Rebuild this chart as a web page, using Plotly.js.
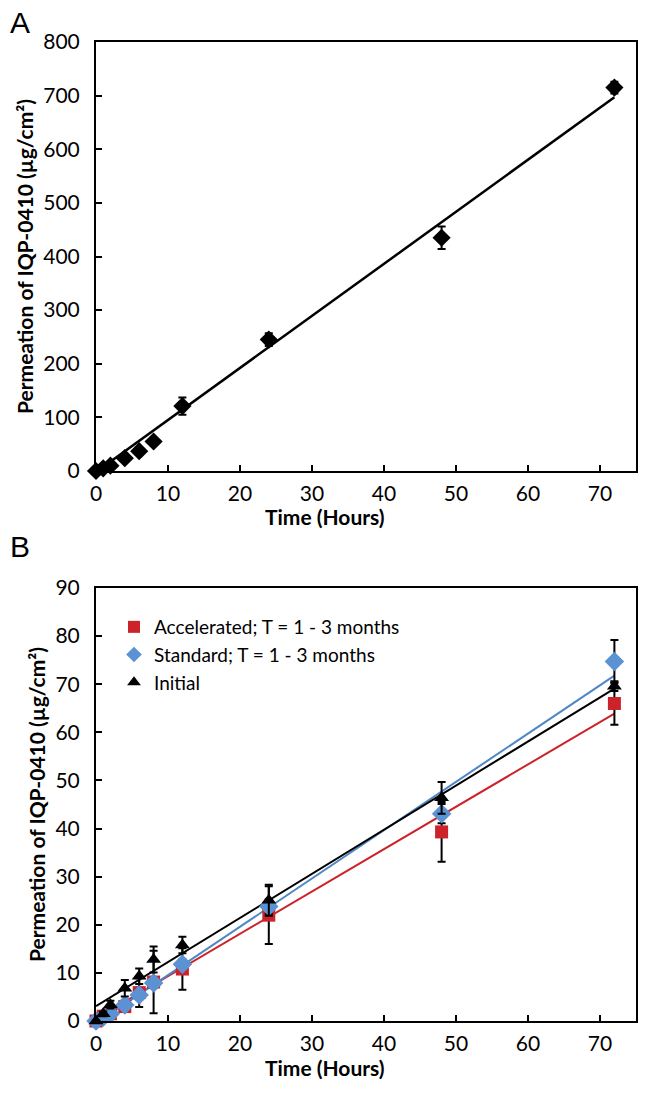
<!DOCTYPE html>
<html>
<head>
<meta charset="utf-8">
<script src="https://cdn.plot.ly/plotly-3.0.1.min.js"></script>
<style>
  html, body { margin: 0; padding: 0; background: #fff; }
  #chart { width: 646px; height: 1103px; }
</style>
</head>
<body>
<div id="chart"></div>
<script>
// --- data ---
const hours = [0, 1, 2, 4, 6, 8, 12, 24, 48, 72];

// panel A
const permA = [0, 5, 10, 24, 37, 55, 121, 245, 435, 715];
const errA = [0, 0, 0, 0, 0, 0, 16, 12, 21, 11];
const fitAx = [0, 72];
const fitAy = [-2, 697];

// panel B
const accel = [0, 1, 1.5, 3, 5.9, 8.1, 10.8, 22, 39.3, 66];
const accelErr = [0, 0, 0.5, 1, 3, 6.5, 4.3, 6, 6.2, 4.4];
const standard = [0, 0.8, 1.5, 3.3, 5.4, 7.9, 11.8, 23.8, 43.1, 74.7];
const standardErr = [0, 0, 0, 0.5, 1, 1, 1, 1.5, 2, 4.5];
const initial = [0, 1.5, 3.4, 6.8, 9.3, 12.8, 15.8, 25.1, 46.4, 69.6];
const initialErr = [0, 0.5, 0.8, 1.7, 1.6, 2.7, 1.7, 3.2, 3.3, 1];

const fitBx = [0, 72];
const fitAccel = [0.5, 63.9];
const fitStandard = [-0.5, 71.8];
const fitInitial = [3.1, 69.1];

const seriesNames = ['Accelerated; T = 1 - 3 months', 'Standard; T = 1 - 3 months', 'Initial'];

// --- colours ---
const RED = '#cc2229';
const BLUE = '#5b92d3';
const BLUE_LINE = '#4f86c6';

const W = 646, H = 1103;
const px = v => v / W;
const py = v => 1 - v / H;

function errBars(arr) {
    return { type: 'data', array: arr, visible: true, color: '#000', thickness: 2, width: 4 };
}

const traces = [
    // panel A
    { x: fitAx, y: fitAy, xaxis: 'x', yaxis: 'y', mode: 'lines',
      line: { color: '#000', width: 2.5 }, showlegend: false, hoverinfo: 'skip' },
    { x: hours, y: permA, xaxis: 'x', yaxis: 'y', mode: 'markers', showlegend: false,
      marker: { symbol: 'diamond', size: 14, color: '#000' },
      error_y: errBars(errA), cliponaxis: false },

    // panel B trendlines
    { x: fitBx, y: fitAccel, xaxis: 'x2', yaxis: 'y2', mode: 'lines',
      line: { color: RED, width: 2 }, showlegend: false, hoverinfo: 'skip' },
    { x: fitBx, y: fitStandard, xaxis: 'x2', yaxis: 'y2', mode: 'lines',
      line: { color: BLUE_LINE, width: 2 }, showlegend: false, hoverinfo: 'skip' },
    { x: fitBx, y: fitInitial, xaxis: 'x2', yaxis: 'y2', mode: 'lines',
      line: { color: '#000', width: 2 }, showlegend: false, hoverinfo: 'skip' },

    // panel B points
    { x: hours, y: accel, name: seriesNames[0], xaxis: 'x2', yaxis: 'y2', mode: 'markers',
      marker: { symbol: 'square', size: 13, color: RED },
      error_y: errBars(accelErr), cliponaxis: false },
    { x: hours, y: standard, name: seriesNames[1], xaxis: 'x2', yaxis: 'y2', mode: 'markers',
      marker: { symbol: 'diamond', size: 15, color: BLUE },
      error_y: errBars(standardErr), cliponaxis: false },
    { x: hours, y: initial, name: seriesNames[2], xaxis: 'x2', yaxis: 'y2', mode: 'markers',
      marker: { symbol: 'triangle-up', size: 13, color: '#000' },
      error_y: errBars(initialErr), cliponaxis: false }
];

const FONT = 'Lato, "Open Sans", sans-serif';

function xAxis(domain, anchor) {
    return {
        domain: domain, anchor: anchor, range: [0, 75], dtick: 10, tick0: 0,
        showline: true, mirror: true, linecolor: '#000', linewidth: 2,
        ticks: 'inside', ticklen: 6, tickwidth: 2, tickcolor: '#000',
        showgrid: false, zeroline: false, ticklabelstandoff: 3,
        tickfont: { family: FONT, size: 21, color: '#000' }
    };
}

function yAxis(domain, anchor, range, dtick) {
    return {
        domain: domain, anchor: anchor, range: range, dtick: dtick, tick0: 0,
        showline: true, mirror: true, linecolor: '#000', linewidth: 2,
        ticks: 'inside', ticklen: 6, tickwidth: 2, tickcolor: '#000',
        showgrid: false, zeroline: false, ticklabelstandoff: 10,
        tickfont: { family: FONT, size: 21, color: '#000' },
        title: { text: '<b>Permeation of IQP-0410 (µg/cm²)</b>', standoff: 4,
                 font: { family: FONT, size: 21, color: '#000' } }
    };
}

const dom = [px(96), px(636)];

// x titles sit left of the plot centre, as in the source figure
function xTitle(yPix) {
    return { text: '<b>Time (Hours)</b>', xref: 'paper', yref: 'paper',
             x: px(325), y: py(yPix), xanchor: 'center', yanchor: 'middle',
             showarrow: false, font: { family: FONT, size: 21, color: '#000' } };
}

function panelLabel(txt, yPix) {
    return { text: txt, xref: 'paper', yref: 'paper', x: px(8), y: py(yPix),
             xanchor: 'left', yanchor: 'top', showarrow: false,
             font: { family: 'Liberation Sans, Arial, sans-serif', size: 30, color: '#000' } };
}

const layout = {
    width: W, height: H,
    margin: { l: 0, r: 0, t: 0, b: 0 },
    paper_bgcolor: '#fff', plot_bgcolor: '#fff',
    font: { family: FONT, color: '#000' },
    xaxis: xAxis(dom, 'y'),
    yaxis: yAxis([py(471), py(42)], 'x', [0, 800], 100),
    xaxis2: xAxis(dom, 'y2'),
    yaxis2: yAxis([py(1021), py(588)], 'x2', [0, 90], 10),
    showlegend: true,
    legend: {
        x: px(114), y: py(608), xanchor: 'left', yanchor: 'top',
        bgcolor: 'rgba(0,0,0,0)', traceorder: 'normal',
        font: { family: FONT, size: 19, color: '#000' },
        itemwidth: 30, itemsizing: 'constant'
    },
    annotations: [
        xTitle(517),
        xTitle(1067),
        panelLabel('A', 4),
        panelLabel('B', 528)
    ]
};

Plotly.newPlot('chart', traces, layout, { displayModeBar: false, staticPlot: true });
</script>
</body>
</html>
